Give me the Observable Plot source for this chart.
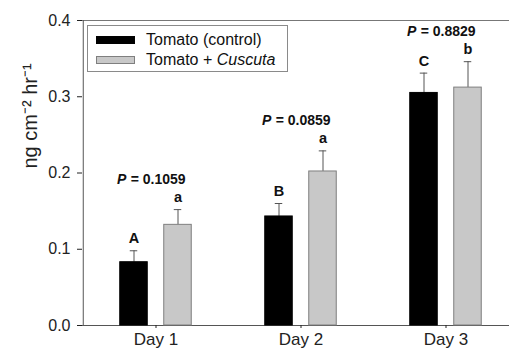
<!DOCTYPE html>
<html>
<head>
<meta charset="utf-8">
<script src="https://cdn.jsdelivr.net/npm/d3@7"></script>
<script src="https://cdn.jsdelivr.net/npm/@observablehq/plot@0.6"></script>
<style>
  html, body { margin: 0; padding: 0; background: white; overflow: hidden; }
  #wrap { position: relative; width: 509px; height: 354px; overflow: hidden; font-family: 'Liberation Sans', Arial, sans-serif; }
  #legend { position: absolute; left: 87px; top: 25px; width: 201px; height: 47px; box-sizing: border-box;
            border: 1px solid #8a8a8a; background: white; }
  .sw { position: absolute; left: 8px; width: 39px; box-sizing: border-box; }
  .lt { position: absolute; left: 58px; font-size: 16px; line-height: 20px; color: #111; white-space: nowrap; }
</style>
</head>
<body>
<div id="wrap"></div>
<script>
// ---- data ----
const days = ["Day 1", "Day 2", "Day 3"];
const series = ["Tomato (control)", "Tomato + Cuscuta"];
const controlMean = [0.083, 0.143, 0.305];
const controlSE = [0.015, 0.017, 0.026];
const cuscutaMean = [0.132, 0.202, 0.312];
const cuscutaSE = [0.020, 0.027, 0.034];
const controlLetters = ["A", "B", "C"];
const cuscutaLetters = ["a", "a", "b"];
const pValues = ["0.1059", "0.0859", "0.8829"];
const yTicks = [0, 0.1, 0.2, 0.3, 0.4];
const yLabel = "ng cm\u207B\u00B2 hr\u207B\u00B9";

// ---- tables built from the arrays ----
const control = days.map((d, i) => ({day: d, mean: controlMean[i], top: controlMean[i] + controlSE[i], letter: controlLetters[i]}));
const cuscuta = days.map((d, i) => ({day: d, mean: cuscutaMean[i], top: cuscutaMean[i] + cuscutaSE[i], letter: cuscutaLetters[i]}));
const pData = days.map((d, i) => ({day: d, top: Math.max(control[i].top, cuscuta[i].top), p: pValues[i]}));

// ---- layout (pixels) ----
const W = 509, H = 354;
const mL = 82, mT = 20, mB = 29;
const xEnd = 518.5;            // the plot area runs past the right edge of the picture
const step = (xEnd - mL) / days.length;
const barW = 28, off = 22, capW = 8;
const inset = (center, w) => ({insetLeft: step / 2 + center - w / 2, insetRight: step / 2 - center - w / 2});

const chart = Plot.plot({
  width: W, height: H,
  marginLeft: mL, marginRight: 0, marginTop: mT, marginBottom: mB,
  style: {fontFamily: "'Liberation Sans', Arial, sans-serif", background: "white", color: "#222", overflow: "hidden"},
  x: {domain: days, padding: 0, range: [mL, xEnd], label: null},
  y: {domain: [0, 0.4], label: null},
  marks: [
    Plot.ruleY([0], {stroke: "#555"}),
    Plot.ruleY([0.4], {stroke: "#777"}),
    Plot.ruleX([days[0]], {x: d => d, dx: -step / 2, stroke: "#555"}),
    Plot.axisY({ticks: yTicks, tickFormat: d3.format(".1f"), tickSize: 5, tickPadding: 7, fontSize: 16, label: null}),
    Plot.axisX({tickSize: 3, tickPadding: 4, fontSize: 17, label: null}),
    // error bars
    Plot.ruleX(control, {x: "day", y1: "mean", y2: "top", dx: -off, stroke: "#555"}),
    Plot.ruleX(cuscuta, {x: "day", y1: "mean", y2: "top", dx: off, stroke: "#555"}),
    Plot.tickY(control, {x: "day", y: "top", stroke: "#555", ...inset(-off, capW)}),
    Plot.tickY(cuscuta, {x: "day", y: "top", stroke: "#555", ...inset(off, capW)}),
    // bars
    Plot.barY(control, {x: "day", y: "mean", fill: "black", stroke: "black", strokeWidth: 1, ...inset(-off, barW)}),
    Plot.barY(cuscuta, {x: "day", y: "mean", fill: "#c8c8c8", stroke: "#7f7f7f", strokeWidth: 1, ...inset(off, barW)}),
    // letters
    Plot.text(control, {x: "day", y: "top", text: "letter", dx: -off, dy: -7.5, lineAnchor: "bottom", fontWeight: "bold", fontSize: 14.5, fill: "#111"}),
    Plot.text(cuscuta, {x: "day", y: "top", text: "letter", dx: off, dy: -7.5, lineAnchor: "bottom", fontWeight: "bold", fontSize: 14.5, fill: "#111"}),
    // P values
    Plot.text(pData, {x: "day", y: "top", text: () => "P", textAnchor: "start", dx: -39, dy: -26, lineAnchor: "bottom", fontWeight: "bold", fontStyle: "italic", fontSize: 14, fill: "#111"}),
    Plot.text(pData, {x: "day", y: "top", text: d => "= " + d.p, textAnchor: "start", dx: -25.3, dy: -26, lineAnchor: "bottom", fontWeight: "bold", fontSize: 14, fill: "#111"}),
    // y label
    Plot.text([yLabel], {text: d => d, frameAnchor: "left", rotate: -90, dx: -52, dy: -4.5, fontSize: 20, fill: "#222"})
  ]
});

const wrap = document.getElementById("wrap");
wrap.appendChild(chart);

// legend
const legend = document.createElement("div");
legend.id = "legend";
const swatches = [
  {top: 10, h: 8, bg: "black", border: "1px solid black"},
  {top: 30, h: 8, bg: "#c8c8c8", border: "1px solid #7f7f7f"}
];
series.forEach((s, i) => {
  const sw = document.createElement("div");
  sw.className = "sw";
  sw.style.top = swatches[i].top + "px";
  sw.style.height = swatches[i].h + "px";
  sw.style.background = swatches[i].bg;
  sw.style.border = swatches[i].border;
  legend.appendChild(sw);
  const t = document.createElement("div");
  t.className = "lt";
  t.style.top = (4 + 20 * i) + "px";
  const idx = s.indexOf("Cuscuta");
  if (idx >= 0) {
    t.appendChild(document.createTextNode(s.slice(0, idx)));
    const it = document.createElement("i");
    it.textContent = "Cuscuta";
    t.appendChild(it);
  } else {
    t.textContent = s;
  }
  legend.appendChild(t);
});
wrap.appendChild(legend);

// hide any stray tall, thin element near the right edge (the reference has no right border there)
const keep = new Set([document.documentElement, document.body, wrap, chart]);
for (let x = 486; x <= 500; x++) {
  for (const y of [60, 150, 250]) {
    const el = document.elementFromPoint(x, y);
    if (!el || keep.has(el)) continue;
    const b = el.getBoundingClientRect();
    if (b.width < 6 && b.height > 100) el.style.visibility = "hidden";
  }
}
</script>
</body>
</html>
